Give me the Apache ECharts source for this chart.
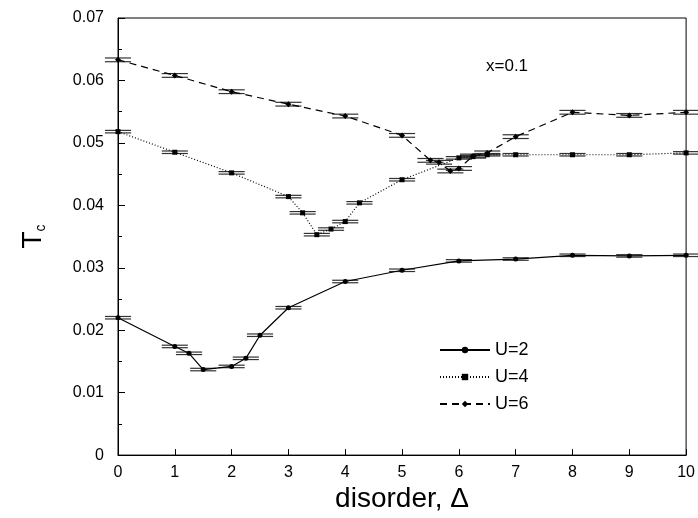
<!DOCTYPE html>
<html>
<head>
<meta charset="utf-8">
<script src="https://cdn.jsdelivr.net/npm/echarts@6/dist/echarts.min.js"></script>
<style>
html, body { margin: 0; padding: 0; background: #fff; }
#main { width: 698px; height: 518px; }
</style>
</head>
<body>
<div id="main"></div>
<script>
// disorder values and Tc for each U
var deltaU2 = [0, 1, 1.25, 1.5, 2, 2.25, 2.5, 3, 4, 5, 6, 7, 8, 9, 10];
var tcU2 = [0.0220, 0.0174, 0.0163, 0.0137, 0.0142, 0.0155, 0.0192, 0.0236, 0.0278, 0.0296, 0.0311, 0.0314, 0.0320, 0.0319, 0.0320];
var deltaU4 = [0, 1, 2, 3, 3.25, 3.5, 3.75, 4, 4.25, 5, 6, 6.25, 6.5, 7, 8, 9, 10];
var tcU4 = [0.0518, 0.0485, 0.0452, 0.0414, 0.0388, 0.0353, 0.0362, 0.0374, 0.0404, 0.0441, 0.0476, 0.0478, 0.0481, 0.0481, 0.0481, 0.0481, 0.0484];
var deltaU6 = [0, 1, 2, 3, 4, 5, 5.5, 5.65, 5.85, 6, 6.25, 6.5, 7, 8, 9, 10];
var tcU6 = [0.0633, 0.0608, 0.0582, 0.0562, 0.0543, 0.0512, 0.0472, 0.0469, 0.0455, 0.0459, 0.0479, 0.0484, 0.0510, 0.0549, 0.0544, 0.0549];
// error bar half heights
var errU2 = 0.0002;
var errU4 = 0.0002;
var errU6 = 0.0003;
var capHalf = 0.23;

var font = 'Liberation Sans, Arial, sans-serif';

function pairs(xs, ys) {
    return xs.map(function (x, i) { return [x, ys[i]]; });
}
function errData(xs, ys, e) {
    return xs.map(function (x, i) { return [x, ys[i], e]; });
}

function renderErr(params, api) {
    var x = api.value(0), y = api.value(1), e = api.value(2);
    var top = api.coord([x, y + e]);
    var bot = api.coord([x, y - e]);
    var l = api.coord([x - capHalf, y])[0];
    var r = api.coord([x + capHalf, y])[0];
    var st = { stroke: '#333', lineWidth: 1.2 };
    return {
        type: 'group',
        children: [
            { type: 'line', shape: { x1: l, y1: top[1], x2: r, y2: top[1] }, style: st },
            { type: 'line', shape: { x1: l, y1: bot[1], x2: r, y2: bot[1] }, style: st },
            { type: 'line', shape: { x1: top[0], y1: top[1], x2: bot[0], y2: bot[1] }, style: st }
        ]
    };
}

function errSeries(data) {
    return {
        type: 'custom',
        renderItem: renderErr,
        data: data,
        z: 1,
        silent: true
    };
}

var chart = echarts.init(document.getElementById('main'));
chart.setOption({
    animation: false,
    title: {
        text: 'x=0.1',
        left: 481,
        top: 53,
        textStyle: { fontFamily: font, fontSize: 17, fontWeight: 'normal', color: '#000' }
    },
    legend: {
        orient: 'vertical',
        left: 434,
        top: 336,
        itemWidth: 50,
        itemHeight: 8,
        itemGap: 9,
        textStyle: { fontFamily: font, fontSize: 18, color: '#000' },
        data: ['U=2', 'U=4', 'U=6']
    },
    grid: {
        left: 115, right: 11, top: 18, bottom: 54,
        show: true, borderColor: '#000', borderWidth: 1
    },
    xAxis: {
        type: 'value',
        min: 0, max: 10, interval: 1,
        name: 'disorder, Δ',
        nameLocation: 'middle',
        nameGap: 29,
        nameTextStyle: { fontFamily: font, fontSize: 28, color: '#000' },
        axisLine: { lineStyle: { color: '#000' } },
        axisTick: { inside: true, length: 6, lineStyle: { color: '#000' } },
        axisLabel: { fontFamily: font, fontSize: 16, color: '#000', margin: 9 },
        splitLine: { show: false }
    },
    yAxis: {
        type: 'value',
        min: 0, max: 0.07, interval: 0.01,
        name: '{t|T}{c|c}',
        nameLocation: 'middle',
        nameRotate: 90,
        nameGap: 70,
        nameTextStyle: {
            fontFamily: font, color: '#000',
            rich: {
                t: { fontFamily: font, fontSize: 28, lineHeight: 30, verticalAlign: 'middle' },
                c: { fontFamily: font, fontSize: 14, lineHeight: 14, padding: [26, 0, 0, 0], verticalAlign: 'bottom' }
            }
        },
        axisLine: { lineStyle: { color: '#000' } },
        axisTick: { inside: true, length: 7, lineStyle: { color: '#000' } },
        minorTick: { show: true, splitNumber: 2, length: 4, lineStyle: { color: '#000' } },
        axisLabel: {
            fontFamily: font, fontSize: 16, color: '#000', margin: 14,
            formatter: function (v) { return v === 0 ? '0' : v.toFixed(2); }
        },
        splitLine: { show: false }
    },
    series: [
        errSeries(errData(deltaU2, tcU2, errU2)),
        errSeries(errData(deltaU4, tcU4, errU4)),
        errSeries(errData(deltaU6, tcU6, errU6)),
        {
            name: 'U=2', type: 'line', data: pairs(deltaU2, tcU2),
            symbol: 'circle', symbolSize: 5, z: 3,
            lineStyle: { color: '#000', width: 1.2, type: 'solid' },
            itemStyle: { color: '#000' }
        },
        {
            name: 'U=4', type: 'line', data: pairs(deltaU4, tcU4),
            symbol: 'rect', symbolSize: 5, z: 3,
            lineStyle: { color: '#000', width: 1.2, type: [1, 2] },
            itemStyle: { color: '#000' }
        },
        {
            name: 'U=6', type: 'line', data: pairs(deltaU6, tcU6),
            symbol: 'diamond', symbolSize: 6, z: 3,
            lineStyle: { color: '#000', width: 1.2, type: [7, 5] },
            itemStyle: { color: '#000' }
        }
    ]
});
</script>
</body>
</html>
